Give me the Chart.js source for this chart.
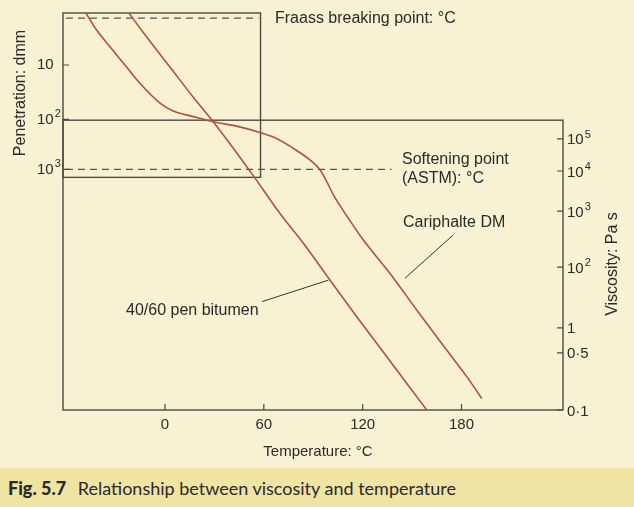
<!DOCTYPE html>
<html>
<head>
<meta charset="utf-8">
<script src="https://cdn.jsdelivr.net/npm/chart.js@4/dist/chart.umd.min.js"></script>
<style>
  body { margin: 0; width: 634px; height: 507px; overflow: hidden; position: relative; background: #f8f1d3; }
  #wrap { position: absolute; left: 0; top: 0; width: 634px; height: 468px; }
  #caption {
    position: absolute; left: 0; top: 468px; width: 634px; height: 39px;
    background: #efe4a3; box-sizing: border-box; padding-left: 8px;
    font-family: Lato, "Open Sans", sans-serif; font-size: 18px; line-height: 40px; color: #2a2a2a;
  }
  #caption b { font-weight: 900; margin-right: 7px; }
</style>
</head>
<body>
<div id="wrap"><canvas id="chart" width="634" height="468"></canvas></div>
<div id="caption"><b>Fig. 5.7</b> Relationship between viscosity and temperature</div>
<script>
// y values are positions on the combined chart scale:
// 0 = the 0·1 Pa s line at the bottom, 100 = top of the penetration box
let tempTicks = [0, 60, 120, 180];
let viscTickPos = [0, 14.4, 20.7, 36.0, 50.1, 60.2, 68.3];
let viscTickLabels = ['0·1', '0·5', '1', '10^2', '10^3', '10^4', '10^5'];
let penTickPos = [86.9, 73.2, 60.6];
let penTickLabels = ['10', '10^2', '10^3'];

// 40/60 pen bitumen
let penTemps = [-21.9, -13.4, 3.0, 16.2, 29.3, 52.6, 69.8, 84.0, 100.2, 116.4, 132.5, 146.8, 158.9];
let penPos   = [100, 95.2, 86.4, 79.3, 72.6, 59.6, 49.5, 42.0, 32.7, 23.5, 14.6, 6.7, 0];

// Cariphalte DM
let cariTemps = [-48.0, -41.5, -33.4, -24.3, -15.2, -3.0, 5.0, 17.2, 29.3, 43.5, 57.7, 67.8, 77.9,
                 88.0, 94.1, 98.2, 102.2, 107.3, 113.4, 120.4, 136.6, 152.8, 171.0, 183.2, 192.3];
let cariPos   = [100, 95.7, 91.5, 86.9, 82.3, 77.3, 75.3, 73.9, 72.6, 71.5, 69.9, 68.4, 65.9,
                 63.0, 60.5, 57.5, 54.2, 50.8, 47.0, 42.8, 34.4, 25.2, 15.1, 8.4, 2.9];

// reference levels
let fraassPos = 98.7;
let softeningPos = 60.6;

const FONT = '"Liberation Sans", Arial, sans-serif';
const INK = '#2a2a2a';
const FRAME = '#4b4a44';
const CURVE = '#b2513c';

const T_MIN = -61.9, T_MAX = 241.6;

function toPoints(xs, ys) {
    return xs.map((x, i) => ({ x: x, y: ys[i] }));
}

// draws "10^3" as 10 with a raised exponent
function powerLabel(ctx, text, x, y, size) {
    let parts = text.split('^');
    ctx.textAlign = 'left';
    ctx.textBaseline = 'middle';
    ctx.font = size + 'px ' + FONT;
    ctx.fillText(parts[0], x, y);
    if (parts[1]) {
        let w = ctx.measureText(parts[0]).width;
        ctx.font = Math.round(size * 0.72) + 'px ' + FONT;
        ctx.fillText(parts[1], x + w + 1, y - size * 0.38);
    }
}

const framePlugin = {
    id: 'frames',
    beforeDatasetsDraw(chart) {
        let ctx = chart.ctx;
        let xs = chart.scales.x, ys = chart.scales.y;
        let X = v => xs.getPixelForValue(v);
        let Y = v => ys.getPixelForValue(v);
        ctx.save();
        ctx.strokeStyle = FRAME;
        ctx.lineWidth = 1.4;
        // penetration box
        ctx.strokeRect(X(T_MIN), Y(100), X(58) - X(T_MIN), Y(58.6) - Y(100));
        // viscosity box
        ctx.strokeRect(X(T_MIN), Y(73.0), X(T_MAX) - X(T_MIN), Y(0) - Y(73.0));

        // dashed reference lines
        ctx.setLineDash([7, 5]);
        ctx.lineWidth = 1.2;
        ctx.strokeStyle = '#55544d';
        ctx.beginPath();
        ctx.moveTo(X(T_MIN) + 3, Y(fraassPos));
        ctx.lineTo(X(58) - 2, Y(fraassPos));
        ctx.moveTo(X(T_MIN) + 3, Y(softeningPos));
        ctx.lineTo(X(137.5), Y(softeningPos));
        ctx.stroke();
        ctx.setLineDash([]);

        // inward tick marks
        ctx.strokeStyle = FRAME;
        ctx.lineWidth = 1.2;
        ctx.beginPath();
        tempTicks.forEach(t => { ctx.moveTo(X(t), Y(0)); ctx.lineTo(X(t), Y(0) - 6); });
        viscTickPos.forEach(p => { ctx.moveTo(X(T_MAX), Y(p)); ctx.lineTo(X(T_MAX) - 6, Y(p)); });
        penTickPos.forEach(p => { ctx.moveTo(X(T_MIN), Y(p)); ctx.lineTo(X(T_MIN) + 6, Y(p)); });
        ctx.stroke();
        ctx.restore();
    },
    afterDatasetsDraw(chart) {
        let ctx = chart.ctx;
        let xs = chart.scales.x, ys = chart.scales.y;
        let X = v => xs.getPixelForValue(v);
        let Y = v => ys.getPixelForValue(v);
        ctx.save();
        ctx.fillStyle = INK;

        // tick labels
        ctx.font = '15px ' + FONT;
        ctx.textAlign = 'center';
        ctx.textBaseline = 'middle';
        tempTicks.forEach(t => ctx.fillText(String(t), X(t), Y(0) + 15));
        viscTickPos.forEach((p, i) => powerLabel(ctx, viscTickLabels[i], X(T_MAX) + 4, Y(p) + 1.5, 15));
        penTickPos.forEach((p, i) => powerLabel(ctx, penTickLabels[i], 37, Y(p), 15));

        // axis titles
        ctx.font = '15px ' + FONT;
        ctx.textAlign = 'center';
        ctx.textBaseline = 'middle';
        ctx.fillText('Temperature: °C', 318, 452);
        ctx.font = '16px ' + FONT;
        ctx.save();
        ctx.translate(21, 93);
        ctx.rotate(-Math.PI / 2);
        ctx.fillText('Penetration: dmm', 0, 0);
        ctx.restore();
        ctx.save();
        ctx.translate(613, 264);
        ctx.rotate(-Math.PI / 2);
        ctx.fillText('Viscosity: Pa s', 0, 0);
        ctx.restore();

        // annotations
        ctx.font = '16px ' + FONT;
        ctx.textAlign = 'left';
        ctx.fillText('Fraass breaking point: °C', 275, 19);
        ctx.fillText('Softening point', 402, 160);
        ctx.fillText('(ASTM): °C', 402, 179);
        ctx.fillText('Cariphalte DM', 403, 223);
        ctx.fillText('40/60 pen bitumen', 126, 311);

        // pointer lines
        ctx.strokeStyle = '#333';
        ctx.lineWidth = 1;
        ctx.beginPath();
        ctx.moveTo(X(58.9), Y(27.3));
        ctx.lineTo(X(99.2), Y(32.7));
        ctx.moveTo(X(175.0), Y(44.1));
        ctx.lineTo(X(145.7), Y(33.2));
        ctx.stroke();
        ctx.restore();
    }
};

new Chart(document.getElementById('chart'), {
    type: 'line',
    data: {
        datasets: [
            { label: '40/60 pen bitumen', data: toPoints(penTemps, penPos) },
            { label: 'Cariphalte DM', data: toPoints(cariTemps, cariPos) }
        ]
    },
    options: {
        responsive: false,
        animation: false,
        events: [],
        layout: { padding: { left: 63, right: 71, top: 13, bottom: 58 } },
        elements: {
            line: { borderColor: CURVE, borderWidth: 1.6, cubicInterpolationMode: 'monotone', fill: false },
            point: { radius: 0 }
        },
        plugins: { legend: { display: false }, tooltip: { enabled: false } },
        scales: {
            x: { type: 'linear', min: T_MIN, max: T_MAX, display: false },
            y: { type: 'linear', min: 0, max: 100, display: false }
        }
    },
    plugins: [framePlugin]
});
</script>
</body>
</html>
